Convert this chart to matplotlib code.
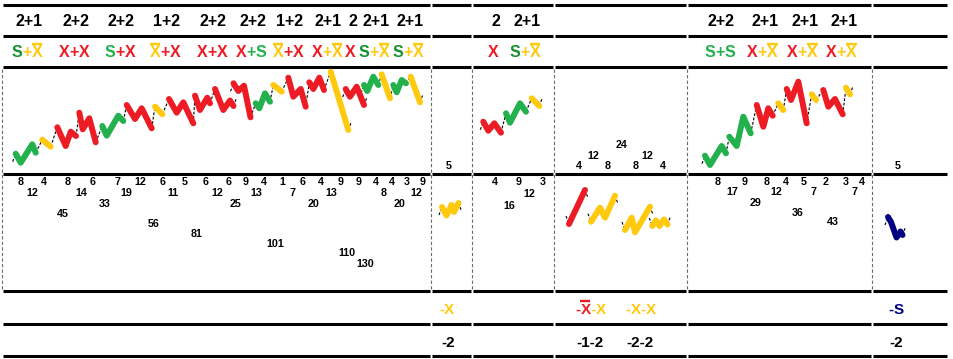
import math
import matplotlib
matplotlib.use('Agg')
import matplotlib.pyplot as plt

plt.rcParams['font.family'] = ['Liberation Sans', 'DejaVu Sans']

# ---------------- colours ----------------
RED = '#ED1C24'
GREEN = '#22B14C'
DGREEN = '#17902F'
YEL = '#FFC90E'
NAVY = '#000080'

# ---------------- layout of the table ----------------
col_edges = [2.5, 431.5, 472.5, 554.2, 686.8, 871.8, 948]
row_lines = [4.5, 35.5, 67.0, 173.5, 291.0, 324.0, 355.5]

# ---------------- row 1 : counts ----------------
count_labels = ['2+1', '2+2', '2+2', '1+2', '2+2', '2+2', '1+2', '2+1', '2', '2+1', '2+1',
                '2', '2+1',
                '2+2', '2+1', '2+1', '2+1']
count_x = [29, 76, 121, 167, 213, 253, 290, 328, 353, 376, 410,
           496, 527,
           721, 765, 805, 844.5]

# ---------------- row 2 : series names ----------------
name_labels = ['S+X\u0304', 'X+X', 'S+X', 'X\u0304+X', 'X+X', 'X+S', 'X\u0304+X', 'X+X\u0304', 'X',
               'S+X\u0304', 'S+X\u0304',
               'X', 'S+X\u0304',
               'S+S', 'X+X\u0304', 'X+X\u0304', 'X+X\u0304']
name_x = [27, 74, 120, 165, 212, 251, 288, 327, 350, 374, 408,
          493, 525,
          720, 762.5, 802.5, 841.5]
name_dark_s = [True, False, False, False, False, False, False, False, False, True, True,
               False, True,
               False, False, False, False]

# ---------------- row 5 / row 6 ----------------
neg_labels = ['-X', '-X\u0304-X', '-X-X', '-S']
neg_x = [446.7, 590.5, 640.5, 895.7]
neg_count_labels = ['-2', '-1-2', '-2-2', '-2']
neg_count_x = [448.3, 590, 639.7, 896.3]

# ---------------- upper panel numbers ----------------
up_num = ['5', '4', '12', '8', '24', '8', '12', '4', '5']
up_num_x = [448.3, 579, 593.3, 607.7, 621.7, 635.7, 647.3, 662.7, 897.7]
up_num_y = [169, 169, 158.7, 169, 147.5, 169, 158.7, 169, 169]

# ---------------- lower panel numbers ----------------
low_num = ['8', '4', '8', '6', '7', '12', '6', '5', '6', '6', '9', '4', '1', '6', '4', '9', '9', '4', '4', '3', '9',
           '12', '14', '19', '11', '12', '13', '7', '13', '8', '12',
           '33', '25', '20', '20', '45', '56', '81', '101', '110', '130',
           '4', '9', '3', '12', '16',
           '8', '9', '8', '4', '5', '2', '3', '4', '17', '12', '7', '7', '29', '36', '43']
low_num_x = [20.7, 44, 67.7, 92.7, 117.3, 140.7, 162.7, 185, 206, 228.7, 245.7, 264, 282, 302.7, 320.7, 340.7, 359,
             375.7, 392.3, 407, 422.3,
             32.3, 81.3, 126.7, 173.3, 217.3, 256, 292.7, 331.7, 384, 416,
             105, 236, 313.3, 400, 63.3, 154, 196.7, 275, 346.7, 365.7,
             495, 518.3, 542.7, 529.3, 509.3,
             717.7, 745, 766.7, 786, 804, 825.7, 845.7, 861.7, 732.3, 776, 814, 854.3, 756, 797.7, 833.3]
low_num_y = [185] * 21 + [196] * 10 + [206.7] * 4 + [217.3, 227.3, 237.3, 246.7, 256, 266.7] + \
            [185, 185, 185, 196.7, 208.7] + [185] * 8 + [195] * 4 + [206, 215.7, 225]

# ---------------- zigzag tracks ----------------
track_main = [
    [(15.7, 153.7), (20.7, 162.7), (32.3, 144.3), (35.7, 152.7)],
    [(42.3, 139.7), (50.7, 146.7)],
    [(57.3, 127.3), (65.7, 146.0), (70.7, 131.7), (76.0, 136.0)],
    [(79.3, 112.7), (82.7, 129.3), (89.3, 118.3), (95.7, 142.3)],
    [(102.3, 126.0), (106.7, 135.7), (118.3, 115.7), (123.3, 121.0)],
    [(126.7, 105.0), (135.0, 119.0), (141.7, 108.3), (151.7, 128.3)],
    [(155.0, 106.7), (162.3, 114.3)],
    [(169.0, 99.0), (176.7, 112.7), (183.3, 102.3), (193.3, 123.3)],
    [(195.0, 95.7), (200.0, 110.0), (207.3, 97.7), (210.0, 103.3)],
    [(215.0, 89.0), (223.3, 110.0), (230.0, 100.5), (233.5, 106.0)],
    [(233.5, 83.3), (238.3, 91.0), (244.0, 85.7), (250.5, 117.3)],
    [(255.7, 103.3), (259.3, 108.3), (265.0, 93.3), (270.0, 101.7)],
    [(273.3, 85.0), (281.7, 91.7)],
    [(288.3, 77.7), (293.3, 96.7), (300.7, 89.0), (305.7, 106.7)],
    [(309.3, 82.3), (313.3, 89.0), (319.3, 77.7), (324.0, 90.0)],
    [(330.7, 71.7), (348.3, 130.0)],
    [(345.7, 89.0), (350.0, 96.7), (356.7, 86.7), (364.0, 105.0)],
    [(364.0, 85.0), (367.3, 91.0), (373.3, 76.7), (378.3, 85.0)],
    [(381.7, 74.3), (390.0, 98.3)],
    [(393.3, 85.0), (396.7, 92.3), (401.7, 80.0), (406.0, 83.3)],
    [(410.7, 76.7), (420.0, 102.3)],
]
track_main_col = [GREEN, YEL, RED, RED, GREEN, RED, YEL, RED, RED, RED, RED, GREEN, YEL, RED, RED, YEL,
                  RED, GREEN, YEL, GREEN, YEL]

track_c3 = [
    [(483.3, 121.7), (488.3, 130.7), (494.3, 123.3), (501.0, 132.7)],
    [(506.0, 113.3), (510.0, 122.7), (520.0, 103.3), (526.0, 111.7)],
    [(531.7, 98.3), (539.3, 106.0)],
]
track_c3_col = [RED, GREEN, YEL]

track_c5 = [
    [(705.0, 155.7), (710.0, 165.0), (721.7, 146.0), (726.0, 153.3)],
    [(729.3, 136.7), (736.7, 146.0), (743.3, 116.7), (750.7, 133.3)],
    [(756.7, 105.0), (763.3, 126.7), (768.3, 108.3), (772.7, 115.7)],
    [(778.3, 103.3), (783.3, 110.0)],
    [(786.7, 89.0), (791.0, 100.0), (798.3, 81.7), (806.7, 123.3)],
    [(811.7, 94.3), (816.0, 100.0)],
    [(823.3, 90.0), (828.3, 106.7), (835.0, 99.0), (842.7, 114.3)],
    [(846.0, 87.7), (850.0, 94.3)],
]
track_c5_col = [GREEN, GREEN, RED, YEL, RED, YEL, RED, YEL]

track_c2 = [[(442.0, 207.0), (446.5, 215.5), (451.5, 205.0), (454.0, 212.0), (458.5, 203.0)]]
track_c2_col = [YEL]

track_c4 = [
    [(569.0, 224.0), (585.0, 190.0)],
    [(591.0, 221.7), (600.0, 207.7), (605.0, 217.7), (615.0, 195.7)],
    [(625.0, 230.0), (631.7, 217.7), (635.0, 232.3), (650.0, 206.7)],
    [(652.3, 226.0), (656.0, 220.5), (659.5, 226.0), (664.0, 219.5), (667.5, 224.5)],
]
track_c4_col = [RED, YEL, YEL, YEL]

track_c6 = [[(888.0, 217.0), (891.0, 222.0), (896.5, 237.5), (900.5, 231.5), (902.5, 235.0)]]
track_c6_col = [NAVY]

# =====================================================================
fig = plt.figure(figsize=(9.54, 3.59), dpi=100)
ax = fig.add_axes([0, 0, 1, 1])
ax.set_xlim(0, 954)
ax.set_ylim(359, 0)
ax.axis('off')
renderer = fig.canvas.get_renderer()

# table lines
for y in row_lines:
    for a, b in zip(col_edges[:-1], col_edges[1:]):
        ax.plot([a + 1.0, b - 1.0], [y, y], color='black', lw=2.2, solid_capstyle='butt', zorder=1)
for x in col_edges[:-1]:
    ax.plot([x, x], [row_lines[2] + 1.5, row_lines[4] - 1.5], color='#6b6b6b', lw=0.8,
            ls=(0, (3, 2)), zorder=1)


def ink_width(s, size):
    t = ax.text(0, 0, s, fontsize=size, fontweight='bold')
    w = t.get_window_extent(renderer).width
    t.remove()
    return w


def parse(label):
    toks = []
    for ch in label:
        if ch == '\u0304':
            toks[-1][1] = True
        else:
            toks.append([ch, False])
    return toks


def rich(xc, yb, label, size, cmap):
    toks = parse(label)
    cols = []
    for i, (ch, ov) in enumerate(toks):
        if ch in '+-':
            nxt = toks[i + 1]
            cols.append(cmap[(nxt[0], nxt[1])])
        else:
            cols.append(cmap[(ch, ov)])
    full = ''.join(t[0] for t in toks)
    total = ink_width(full, size)
    x0 = xc - total / 2
    acc = ''
    cap = 0.716 * size * 100 / 72
    for (ch, ov), c in zip(toks, cols):
        acc += ch
        wp = ink_width(ch, size)
        xl = x0 + ink_width(acc, size) - wp
        ax.text(xl, yb, ch, color=c, fontsize=size, fontweight='bold', ha='left', va='baseline', zorder=4)
        if ov:
            ax.plot([xl, xl + wp], [yb - cap - 2.3] * 2, color=c, lw=1.7, solid_capstyle='butt', zorder=4)


# row 1
for s, x in zip(count_labels, count_x):
    ax.text(x, 26, s, fontsize=11.5, fontweight='bold', ha='center', va='baseline', color='black')

# row 2
for s, x, dk in zip(name_labels, name_x, name_dark_s):
    cmap = {('S', False): DGREEN if dk else GREEN, ('X', False): RED, ('X', True): YEL}
    rich(x, 57.3, s, 11.5, cmap)

# row 5
neg_cmap = {('S', False): NAVY, ('X', False): YEL, ('X', True): RED}
for s, x in zip(neg_labels, neg_x):
    rich(x, 314, s, 11, neg_cmap)

# row 6
for s, x in zip(neg_count_labels, neg_count_x):
    ax.text(x, 346.7, s, fontsize=11, fontweight='bold', ha='center', va='baseline', color='black')

# numbers
for s, x, y in zip(up_num, up_num_x, up_num_y):
    ax.text(x, y, s, fontsize=7.7, fontweight='bold', ha='center', va='baseline')
for s, x, y in zip(low_num, low_num_x, low_num_y):
    ax.text(x, y, s, fontsize=7.7, fontweight='bold', ha='center', va='baseline')

# tracks
DASH = (0, (2.5, 1.5))


def thin(p, q):
    ax.plot([p[0], q[0]], [p[1], q[1]], color='black', lw=0.8, ls=DASH, zorder=2)


def draw_track(groups, cols):
    n = len(groups)
    joined = [False] * n
    for i in range(n - 1):
        e = groups[i][-1]
        s = groups[i + 1][0]
        dy_last = groups[i][-1][1] - groups[i][-2][1]
        vx, vy = s[0] - e[0], s[1] - e[1]
        if vx > 0 and vy * dy_last < 0 and math.hypot(vx, vy) < 40:
            joined[i] = True
            thin(e, s)
    for i, (pts, c) in enumerate(zip(groups, cols)):
        xs = [p[0] for p in pts]
        ys = [p[1] for p in pts]
        dy0 = ys[1] - ys[0]
        dy1 = ys[-1] - ys[-2]
        if i == 0 or not joined[i - 1]:
            thin((xs[0] - 3, ys[0] + (8 if dy0 > 0 else -8)), (xs[0], ys[0]))
        if i == n - 1 or not joined[i]:
            thin((xs[-1], ys[-1]), (xs[-1] + 3, ys[-1] + (-8 if dy1 > 0 else 8)))
        ax.plot(xs, ys, color=c, lw=4.3, solid_capstyle='round', solid_joinstyle='round', zorder=3)


draw_track(track_main, track_main_col)
draw_track(track_c3, track_c3_col)
draw_track(track_c5, track_c5_col)
draw_track(track_c2, track_c2_col)
for g, c in zip(track_c4, track_c4_col):
    draw_track([g], [c])
draw_track(track_c6, track_c6_col)

fig.savefig('out.png', dpi=100)
